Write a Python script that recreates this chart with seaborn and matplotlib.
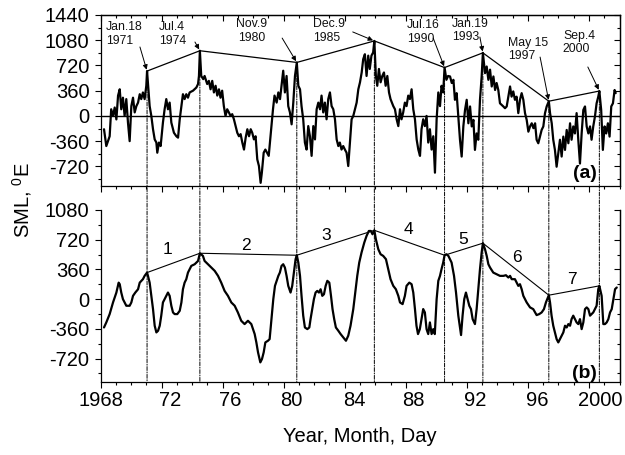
import matplotlib
matplotlib.use("Agg")
import matplotlib.pyplot as plt
import numpy as np
import pandas as pd
import seaborn as sns
from matplotlib.patches import ConnectionPatch
from matplotlib.ticker import MultipleLocator, NullFormatter
from matplotlib.transforms import ScaledTranslation

# ---------------- data ----------------
top_years = [1968.23, 1968.38, 1968.60, 1968.70, 1968.82, 1968.93, 1969.04, 1969.15, 1969.26, 1969.36,
             1969.47, 1969.58, 1969.69, 1969.80, 1969.91, 1970.02, 1970.13, 1970.24, 1970.35, 1970.46,
             1970.57, 1970.67, 1970.78, 1970.89, 1971.00, 1971.05, 1971.22, 1971.33, 1971.44, 1971.55,
             1971.66, 1971.72, 1971.83, 1971.94, 1972.09, 1972.20, 1972.31, 1972.42, 1972.53, 1972.64,
             1972.81, 1972.97, 1973.08, 1973.19, 1973.30, 1973.40, 1973.51, 1973.62, 1973.73, 1973.84,
             1974.06, 1974.28, 1974.39, 1974.45, 1974.51, 1974.60, 1974.73, 1974.82, 1974.99, 1975.10,
             1975.21, 1975.32, 1975.43, 1975.54, 1975.65, 1975.76, 1975.86, 1975.97, 1976.08, 1976.19,
             1976.30, 1976.41, 1976.52, 1976.63, 1976.74, 1976.85, 1976.96, 1977.07, 1977.18, 1977.29,
             1977.40, 1977.51, 1977.62, 1977.73, 1977.84, 1977.94, 1978.05, 1978.16, 1978.27, 1978.38,
             1978.49, 1978.57, 1978.69, 1978.80, 1978.91, 1979.02, 1979.10, 1979.20, 1979.30, 1979.40,
             1979.54, 1979.65, 1979.76, 1979.86, 1979.97, 1980.08, 1980.19, 1980.30, 1980.41, 1980.52,
             1980.63, 1980.74, 1980.86, 1980.96, 1981.07, 1981.17, 1981.28, 1981.39, 1981.50, 1981.61,
             1981.72, 1981.83, 1981.94, 1982.05, 1982.16, 1982.27, 1982.38, 1982.48, 1982.59, 1982.70,
             1982.81, 1982.92, 1983.03, 1983.14, 1983.25, 1983.36, 1983.47, 1983.58, 1983.68, 1983.79,
             1983.90, 1984.01, 1984.12, 1984.23, 1984.34, 1984.45, 1984.56, 1984.67, 1984.78, 1984.89,
             1985.00, 1985.11, 1985.21, 1985.32, 1985.43, 1985.54, 1985.64, 1985.75, 1985.86, 1985.94,
             1986.04, 1986.13, 1986.24, 1986.35, 1986.46, 1986.57, 1986.68, 1986.79, 1986.90, 1987.00,
             1987.18, 1987.29, 1987.40, 1987.51, 1987.62, 1987.72, 1987.83, 1987.94, 1988.05, 1988.16,
             1988.27, 1988.38, 1988.49, 1988.60, 1988.71, 1988.82, 1988.93, 1989.03, 1989.14, 1989.25,
             1989.36, 1989.47, 1989.58, 1989.69, 1989.80, 1989.91, 1990.02, 1990.13, 1990.24, 1990.34,
             1990.45, 1990.54, 1990.66, 1990.77, 1990.90, 1991.01, 1991.12, 1991.22, 1991.33, 1991.44,
             1991.55, 1991.66, 1991.77, 1991.88, 1991.99, 1992.10, 1992.21, 1992.32, 1992.43, 1992.53,
             1992.64, 1992.75, 1992.86, 1992.97, 1993.05, 1993.19, 1993.30, 1993.41, 1993.52, 1993.63,
             1993.74, 1993.85, 1993.95, 1994.06, 1994.17, 1994.39, 1994.50, 1994.61, 1994.72, 1994.83,
             1994.93, 1995.04, 1995.15, 1995.26, 1995.37, 1995.48, 1995.59, 1995.70, 1995.81, 1995.92,
             1996.03, 1996.14, 1996.25, 1996.36, 1996.47, 1996.57, 1996.68, 1996.79, 1996.90, 1997.01,
             1997.12, 1997.23, 1997.37, 1997.45, 1997.56, 1997.66, 1997.77, 1997.88, 1997.99, 1998.10,
             1998.21, 1998.32, 1998.43, 1998.54, 1998.65, 1998.76, 1998.86, 1998.97, 1999.08, 1999.19,
             1999.30, 1999.41, 1999.52, 1999.63, 1999.74, 1999.85, 1999.96, 2000.07, 2000.17, 2000.28,
             2000.39, 2000.50, 2000.61, 2000.68, 2000.80, 2000.91, 2001.02, 2001.13, 2001.24, 2001.35,
             2001.46, 2001.57, 2001.68, 2001.75]
top_vals = [-190, -430, -290, 95, 0, 120, -50, 290, 380, 95,
            260, 0, 240, -95, -360, 140, 260, 50, 140, 190,
            310, 240, 335, 240, 430, 640, 140, 0, -190, -335,
            -380, -525, -380, -430, -95, 95, 240, 95, 190, -95,
            -240, -290, -310, -48, 140, 310, 240, 310, 260, 335,
            360, 405, 455, 570, 930, 570, 525, 570, 455, 500,
            380, 500, 335, 430, 290, 380, 260, 360, 140, 0,
            95, 50, 0, 25, -48, -145, -240, -290, -260, -380,
            -480, -310, -190, -290, -190, -240, -335, -290, -620, -715,
            -955, -810, -525, -480, -525, -570, -380, -145, 95, 290,
            190, 335, 240, 430, 645, 335, 570, 140, 50, -120,
            190, 570, 763, 430, 380, 140, -48, -380, -480, -145,
            -290, -570, -145, -335, 95, 190, 95, 290, 50, 190,
            -48, 240, 335, 140, 95, -48, -335, -430, -380, -480,
            -430, -480, -525, -715, -380, -48, 0, 95, 190, 380,
            480, 620, 810, 880, 570, 860, 670, 860, 905, 1070,
            570, 430, 670, 480, 570, 620, 430, 570, 335, 240,
            140, 95, -48, -145, 95, -48, 50, 190, 140, 290,
            240, 380, 95, -48, -335, -480, -570, -190, -48, -145,
            0, -380, -190, -480, -290, -810, -48, 335, 140, 430,
            335, 690, 515, 570, 563, 470, 515, 230, 325, 0,
            -340, -580, -150, 85, 230, -105, 135, -150, -57, -485,
            -250, -340, 230, 563, 900, 610, 705, 515, 660, 420,
            563, 370, 470, 370, 180, 135, 110, 135, 275, 420,
            275, 350, 230, 275, 40, 230, 325, 230, 40, -57,
            -225, -150, -105, -175, -105, -340, -390, -295, -200, -150,
            40, 135, 210, 40, -105, -340, -485, -725, -535, -340,
            -580, -295, -485, -200, -390, -105, -340, -150, -250, 40,
            -340, -680, -250, 85, 135, -150, -250, -150, -340, -150,
            -10, 180, 275, 355, 85, -485, -150, -250, -105, -295,
            135, 180, 370, 325]

bot_years = [1968.23, 1968.38, 1968.60, 1968.82, 1969.04, 1969.19, 1969.26, 1969.36, 1969.47, 1969.69,
             1969.91, 1970.02, 1970.13, 1970.28, 1970.46, 1970.57, 1970.67, 1970.78, 1970.89, 1971.05,
             1971.11, 1971.22, 1971.33, 1971.44, 1971.55, 1971.66, 1971.77, 1971.88, 1971.98, 1972.09,
             1972.20, 1972.31, 1972.42, 1972.53, 1972.64, 1972.75, 1972.86, 1973.03, 1973.19, 1973.30,
             1973.40, 1973.51, 1973.62, 1973.73, 1973.84, 1973.95, 1974.17, 1974.28, 1974.39, 1974.51,
             1974.71, 1974.82, 1975.04, 1975.26, 1975.48, 1975.70, 1975.91, 1976.13, 1976.35, 1976.57,
             1976.79, 1977.00, 1977.22, 1977.44, 1977.66, 1977.88, 1977.99, 1978.10, 1978.21, 1978.32,
             1978.47, 1978.58, 1978.69, 1978.80, 1978.97, 1979.08, 1979.20, 1979.32, 1979.43, 1979.54,
             1979.65, 1979.75, 1979.86, 1979.97, 1980.08, 1980.19, 1980.30, 1980.45, 1980.56, 1980.67,
             1980.78, 1980.86, 1980.96, 1981.07, 1981.17, 1981.28, 1981.39, 1981.55, 1981.68, 1981.76,
             1981.87, 1981.98, 1982.09, 1982.20, 1982.31, 1982.42, 1982.53, 1982.64, 1982.75, 1982.86,
             1982.99, 1983.10, 1983.20, 1983.31, 1983.42, 1983.58, 1983.73, 1983.90, 1984.08, 1984.23,
             1984.38, 1984.56, 1984.69, 1984.82, 1984.95, 1985.10, 1985.28, 1985.43, 1985.58, 1985.71,
             1985.82, 1985.94, 1986.04, 1986.20, 1986.35, 1986.52, 1986.70, 1986.85, 1987.00, 1987.18,
             1987.35, 1987.51, 1987.62, 1987.79, 1987.94, 1988.05, 1988.23, 1988.38, 1988.49, 1988.60,
             1988.70, 1988.80, 1988.92, 1989.03, 1989.14, 1989.25, 1989.36, 1989.47, 1989.58, 1989.69,
             1989.80, 1989.90, 1990.02, 1990.13, 1990.24, 1990.34, 1990.45, 1990.54, 1990.66, 1990.79,
             1991.00, 1991.16, 1991.29, 1991.44, 1991.62, 1991.72, 1991.83, 1991.94, 1992.05, 1992.16,
             1992.27, 1992.38, 1992.53, 1992.64, 1992.75, 1992.86, 1992.97, 1993.05, 1993.19, 1993.30,
             1993.41, 1993.52, 1993.73, 1993.95, 1994.17, 1994.39, 1994.56, 1994.72, 1994.83, 1994.94,
             1995.15, 1995.37, 1995.48, 1995.59, 1995.70, 1995.92, 1996.14, 1996.35, 1996.57, 1996.74,
             1996.90, 1997.05, 1997.18, 1997.37, 1997.45, 1997.55, 1997.66, 1997.77, 1997.88, 1997.99,
             1998.10, 1998.21, 1998.32, 1998.43, 1998.54, 1998.65, 1998.76, 1998.86, 1998.97, 1999.08,
             1999.19, 1999.30, 1999.41, 1999.52, 1999.63, 1999.74, 1999.85, 1999.96, 2000.07, 2000.17,
             2000.28, 2000.39, 2000.50, 2000.61, 2000.68, 2000.83, 2000.94, 2001.05, 2001.16, 2001.27,
             2001.38, 2001.49, 2001.60, 2001.71, 2001.82]
bot_vals = [-343, -282, -181, -40, 80, 200, 181, 80, 0, -80,
            -80, -40, 40, 80, 120, 200, 220, 242, 282, 322,
            282, 200, 40, -120, -322, -403, -383, -322, -200, -40,
            0, 40, 80, 40, -80, -161, -181, -181, -141, -40,
            120, 200, 242, 322, 363, 403, 423, 443, 463, 556,
            524, 463, 423, 383, 343, 282, 200, 100, 40, -40,
            -80, -161, -262, -302, -262, -302, -363, -423, -524, -645,
            -766, -725, -645, -524, -504, -484, -242, 0, 161, 222,
            282, 322, 403, 423, 383, 282, 161, 80, 161, 322,
            484, 532, 443, 282, 40, -200, -343, -363, -343, -242,
            -120, 0, 80, 100, 80, 120, 40, 60, 161, 222,
            200, 40, -120, -242, -343, -383, -423, -463, -504, -443,
            -322, -120, 80, 282, 443, 564, 685, 766, 826, 826,
            786, 834, 725, 604, 544, 524, 484, 363, 242, 161,
            120, 40, -40, -60, 40, 161, 200, 181, 80, -120,
            -322, -423, -363, -242, -120, -161, -363, -423, -282, -423,
            -363, -423, 0, 222, 282, 363, 443, 532, 544, 524,
            443, 282, 80, -200, -435, -200, 0, 80, 0, -80,
            -121, -242, -302, -121, 121, 363, 564, 678, 604, 524,
            423, 383, 322, 302, 282, 282, 290, 262, 282, 242,
            242, 161, 181, 121, 40, -40, -100, -121, -193, -181,
            -161, -121, -40, 48, -40, -200, -322, -403, -484, -524,
            -484, -443, -403, -322, -343, -302, -322, -242, -200, -242,
            -282, -302, -242, -363, -282, -121, -100, -121, -200, -181,
            -161, -121, -80, 121, 161, 40, -302, -302, -282, -242,
            -161, -121, 0, 121, 141]

peak_dates = [1971.05, 1974.51, 1980.86, 1985.94, 1990.54, 1993.05, 1997.37, 2000.68]
peak_labels = ["Jan.18\n1971", "Jul.4\n1974", "Nov.9\n1980", "Dec.9\n1985",
               "Jul.16\n1990", "Jan.19\n1993", "May 15\n1997", "Sep.4\n2000"]
env_top = [640, 930, 763, 1070, 690, 900, 210, 355]
env_bot = [322, 556, 532, 834, 532, 678, 48, 161]
segment_names = ["1", "2", "3", "4", "5", "6", "7"]

x_ticks = [1968, 1972, 1976, 1980, 1984, 1988, 1992, 1996, 2000]
x_tick_labels = ["1968", "72", "76", "80", "84", "88", "92", "96", "2000"]
top_y_ticks = [-720, -360, 0, 360, 720, 1080, 1440]
top_y_labels = ["-720", "-360", "0", "360", "720", "1080", "1440"]
bot_y_ticks = [-720, -360, 0, 360, 720, 1080]
bot_y_labels = ["-720", "-360", "0", "360", "720", "1080"]

# ---------------- layout (not data) ----------------
label_text_pos = [(0.011, 0.962), (0.113, 0.962), (0.262, 0.980), (0.409, 0.980),
                  (0.591, 0.974), (0.677, 0.985), (0.785, 0.874), (0.891, 0.915)]
label_align = ["left", "left", "center", "left", "left", "left", "left", "left"]
arrow_start = [(0.076, 0.813), (0.182, 0.842), (0.350, 0.865), (0.486, 0.901),
               (0.641, 0.865), (0.731, 0.871), (0.847, 0.754), (0.939, 0.696)]
seg_label_pos = [(1972.4, 605), (1977.5, 653), (1982.8, 774), (1988.15, 838),
                 (1991.76, 718), (1995.3, 504), (1998.86, 234)]
x_label_shift_px = [0, 8.5, 8, 7.5, 9.5, 8, 8.5, 9.5, 11]

sns.set_style("ticks")
plt.rcParams["font.family"] = ["Liberation Sans", "DejaVu Sans"]
plt.rcParams["mathtext.default"] = "regular"
plt.rcParams["axes.unicode_minus"] = False
for key in ("text.color", "axes.labelcolor", "xtick.color", "ytick.color", "axes.edgecolor"):
    plt.rcParams[key] = "black"

W, H = 625, 455
fig = plt.figure(figsize=(W / 100, H / 100), dpi=100)
ax1 = fig.add_axes([100.5 / W, 1 - 186 / H, 519 / W, 171 / H])
ax2 = fig.add_axes([100.5 / W, 1 - 381.7 / H, 519 / W, 171.7 / H])

df_top = pd.DataFrame({"year": top_years, "sml": top_vals})
df_bot = pd.DataFrame({"year": bot_years, "sml": bot_vals})
df_env = pd.DataFrame({"year": peak_dates, "top": env_top, "bot": env_bot})

sns.lineplot(data=df_top, x="year", y="sml", ax=ax1, color="black", lw=1.6,
             estimator=None, sort=False)
sns.lineplot(data=df_env, x="year", y="top", ax=ax1, color="black", lw=0.9,
             estimator=None, sort=False)
ax1.axhline(0, color="black", lw=1.0)

sns.lineplot(data=df_bot, x="year", y="sml", ax=ax2, color="black", lw=1.6,
             estimator=None, sort=False)
sns.lineplot(data=df_env, x="year", y="bot", ax=ax2, color="black", lw=0.8,
             estimator=None, sort=False)

for ax in (ax1, ax2):
    ax.set_xlim(1968, 2002)
    ax.set_xlabel("")
    ax.set_ylabel("")
    for s in ax.spines.values():
        s.set_linewidth(0.9)
        s.set_color("black")
    ax.xaxis.set_minor_locator(MultipleLocator(1))
    ax.yaxis.set_minor_locator(MultipleLocator(180))
    ax.tick_params(axis="both", which="major", direction="out", length=4, width=0.8,
                   color="black", labelcolor="black", labelsize=14.5, pad=3)
    ax.tick_params(axis="both", which="minor", direction="out", length=2.3, width=0.8,
                   color="black")
    ax.tick_params(axis="y", which="major", pad=4)
    sec = ax.secondary_yaxis("right")
    sec.set_yticks(top_y_ticks if ax is ax1 else bot_y_ticks)
    sec.yaxis.set_minor_locator(MultipleLocator(180))
    sec.yaxis.set_major_formatter(NullFormatter())
    sec.tick_params(axis="y", which="major", direction="in", length=4, width=0.8, color="black")
    sec.tick_params(axis="y", which="minor", direction="in", length=2.3, width=0.8, color="black")
    sec.spines["right"].set_linewidth(0.9)

ax1.set_ylim(-1000, 1440)
ax1.set_yticks(top_y_ticks)
ax1.set_yticklabels(top_y_labels)
ax1.set_xticks(x_ticks)
ax1.set_xticklabels([])
secx = ax1.secondary_xaxis("top")
secx.set_xticks(x_ticks)
secx.xaxis.set_minor_locator(MultipleLocator(1))
secx.xaxis.set_major_formatter(NullFormatter())
secx.tick_params(axis="x", which="major", direction="in", length=4, width=0.8, color="black")
secx.tick_params(axis="x", which="minor", direction="in", length=2.3, width=0.8, color="black")
secx.spines["top"].set_linewidth(0.9)

ax2.set_ylim(-1000, 1080)
ax2.set_yticks(bot_y_ticks)
ax2.set_yticklabels(bot_y_labels)
ax2.spines["top"].set_visible(False)
ax2.set_xticks(x_ticks)
ax2.set_xticklabels(x_tick_labels)

# annotations top panel
for lab, (tx, ty), al, (sx, sy), d, v in zip(peak_labels, label_text_pos, label_align,
                                           arrow_start, peak_dates, env_top):
    ax1.text(tx, ty, lab, transform=ax1.transAxes, ha="left", va="top",
             multialignment=al, fontsize=8.8, color="#111111", linespacing=1.15)
    ax1.annotate("", xy=(d, v), xycoords="data", xytext=(sx, sy), textcoords="axes fraction",
                 arrowprops=dict(arrowstyle="-|>", color="black", lw=0.7,
                                 mutation_scale=7, shrinkA=0, shrinkB=1))

ax1.text(0.957, 0.075, "(a)", transform=ax1.transAxes, ha="right", va="center",
         fontsize=14, fontweight="bold")
ax2.text(0.957, 0.05, "(b)", transform=ax2.transAxes, ha="right", va="center",
         fontsize=14, fontweight="bold")

for name, (sx, sy) in zip(segment_names, seg_label_pos):
    ax2.text(sx, sy, name, ha="center", va="center", fontsize=12.5)

# dash-dot connectors from the upper peaks down through the lower panel
for d, v in zip(peak_dates, env_top):
    con = ConnectionPatch(xyA=(d, v), coordsA=ax1.transData,
                          xyB=(d, -1000), coordsB=ax2.transData,
                          color="black", lw=0.7, linestyle=(0, (4, 1.5, 1, 1.5)))
    fig.add_artist(con)

fig.text(22 / W, 1 - 200 / H, "SML, $^{0}$E", rotation=90, ha="center", va="center",
         fontsize=14.5)
fig.text(360 / W, 1 - 437 / H, "Year, Month, Day", ha="center", va="center", fontsize=14.5)

# shift x tick labels as in the original
for lbl, dx in zip(ax2.get_xticklabels(), x_label_shift_px):
    lbl.set_transform(lbl.get_transform() + ScaledTranslation(dx / 100, 0, fig.dpi_scale_trans))

fig.savefig("out.png", dpi=100)
